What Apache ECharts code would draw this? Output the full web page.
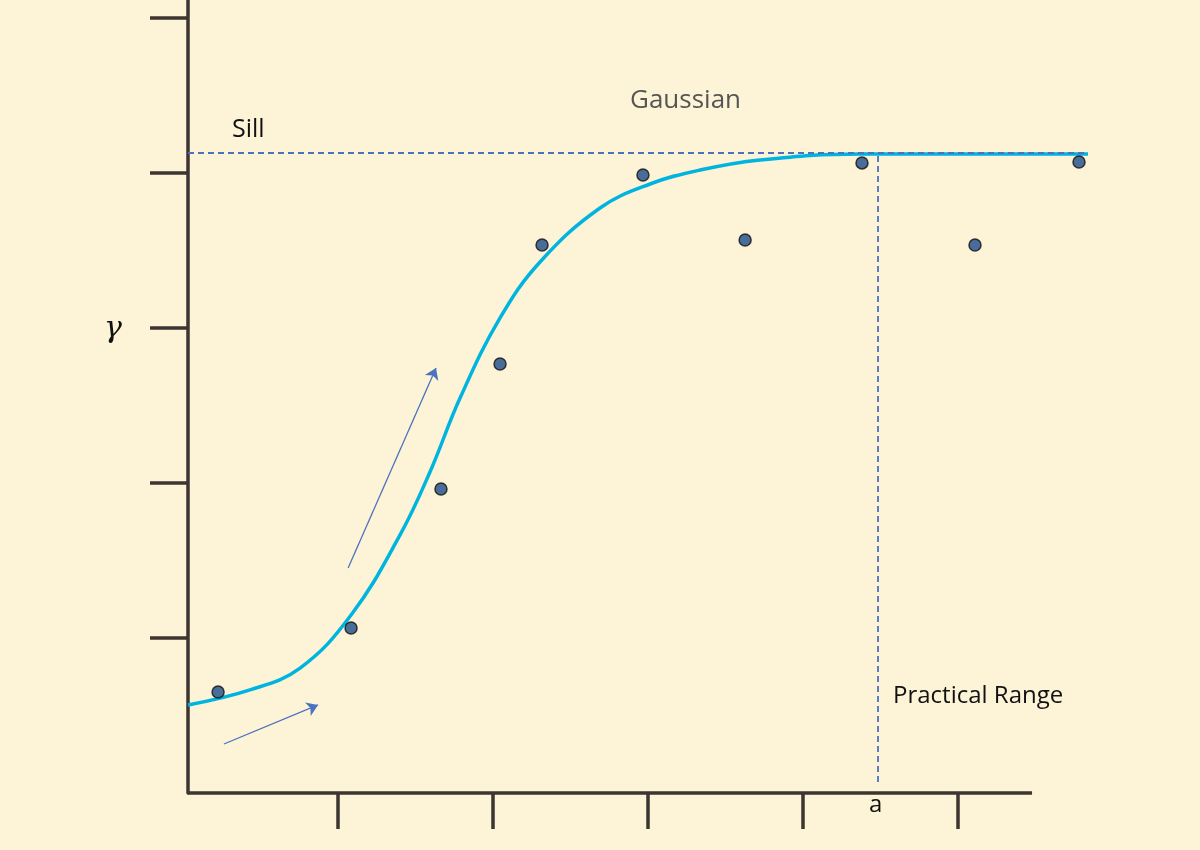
<!DOCTYPE html>
<html>
<head>
<meta charset="utf-8">
<script src="https://cdn.jsdelivr.net/npm/echarts@6/dist/echarts.min.js"></script>
<style>html,body{margin:0;padding:0;background:#fdf3d6;}#main{width:1200px;height:850px;}</style>
</head>
<body>
<div id="main"></div>
<script>
var myChart = echarts.init(document.getElementById('main'));

// observed points (lag, gamma)
var pointX = [0.194, 1.052, 1.632, 2.013, 2.284, 2.935, 3.594, 4.348, 5.077, 5.748];
var pointY = [0.652, 1.065, 1.961, 2.768, 3.535, 3.987, 3.568, 4.065, 3.535, 4.071];
// fitted gaussian model curve
var curveX = [0, 0.4, 0.723, 1.052, 1.368, 1.561, 1.755, 2.013, 2.271, 2.658, 2.981, 3.303, 3.690, 4.335, 5.806];
var curveY = [0.568, 0.665, 0.806, 1.148, 1.665, 2.071, 2.548, 3.065, 3.426, 3.774, 3.929, 4.019, 4.084, 4.123, 4.123];
var sill = 4.129;
var range = 4.452;
var axisEnd = 5.445;
var xTicks = [0.968, 1.968, 2.968, 3.968, 4.968];
var yTicks = [1, 2, 3, 4, 5];
// arrows [x0, y0, x1, y1]
var arrows = [[0.232, 0.316, 0.839, 0.568], [1.033, 1.452, 1.600, 2.742]];

function pairs(xs, ys) {
    var out = [];
    for (var i = 0; i < xs.length; i++) out.push([xs[i], ys[i]]);
    return out;
}

var axisColor = '#3d3530';
var dashColor = '#4a72c0';
var font = 'Open Sans';

var option = {
    backgroundColor: '#fdf3d6',
    animation: false,
    grid: {left: 188, right: 112, top: 0, bottom: 57},
    xAxis: {
        type: 'value', min: 0, max: 5.806, splitLine: {show: false},
        axisLine: {show: false},
        axisTick: {show: true, length: 36, customValues: xTicks, lineStyle: {color: axisColor, width: 3.5}},
        axisLabel: {show: false}
    },
    yAxis: {
        type: 'value', min: 0, max: 5.116, splitLine: {show: false},
        axisLine: {show: true, lineStyle: {color: axisColor, width: 3.5}},
        axisTick: {show: true, length: 38, customValues: yTicks, lineStyle: {color: axisColor, width: 3.5}},
        axisLabel: {show: false}
    },
    graphic: [
        {type: 'text', left: 630, top: 88, style: {text: 'Gaussian', fontFamily: font, fontSize: 26, fill: '#555'}},
        {type: 'text', left: 232, top: 117, style: {text: 'Sill', fontFamily: font, fontSize: 25, fill: '#111'}},
        {type: 'text', left: 104, top: 314, style: {text: 'γ', fontFamily: 'DejaVu Serif', fontStyle: 'italic', fontSize: 30, fill: '#111'}},
        {type: 'text', left: 893, top: 684, style: {text: 'Practical Range', fontFamily: font, fontSize: 24, fill: '#111'}},
        {type: 'text', left: 869, top: 793, style: {text: 'a', fontFamily: font, fontSize: 24, fill: '#111'}}
    ],
    series: [
        {
            type: 'line', data: [], symbol: 'none', silent: true,
            markLine: {
                silent: true, symbol: 'none', label: {show: false},
                data: [
                    [{coord: [0, 0], lineStyle: {color: axisColor, width: 3.5, type: 'solid'}}, {coord: [axisEnd, 0]}],
                    [{coord: [0, sill], lineStyle: {color: dashColor, width: 1.8, type: [6, 4]}}, {coord: [5.806, sill]}],
                    [{coord: [range, 0.071], lineStyle: {color: dashColor, width: 1.8, type: [6, 4]}}, {coord: [range, sill - 0.013]}]
                ]
            }
        },
        {
            type: 'line', data: [], symbol: 'none', silent: true,
            markLine: {
                silent: true, symbol: ['none', 'arrow'], symbolSize: 11, label: {show: false},
                lineStyle: {color: dashColor, width: 1.3, type: 'solid'},
                data: arrows.map(function (a) { return [{coord: [a[0], a[1]]}, {coord: [a[2], a[3]]}]; })
            }
        },
        {
            type: 'line', data: pairs(curveX, curveY), smooth: 0.4, showSymbol: false, symbol: 'none',
            lineStyle: {color: '#00b4e0', width: 3.5}, z: 2
        },
        {
            type: 'scatter', data: pairs(pointX, pointY), symbolSize: 12,
            itemStyle: {color: '#1b4a88', borderColor: '#111', borderWidth: 1.5}, z: 3
        }
    ]
};
myChart.setOption(option);
</script>
</body>
</html>
